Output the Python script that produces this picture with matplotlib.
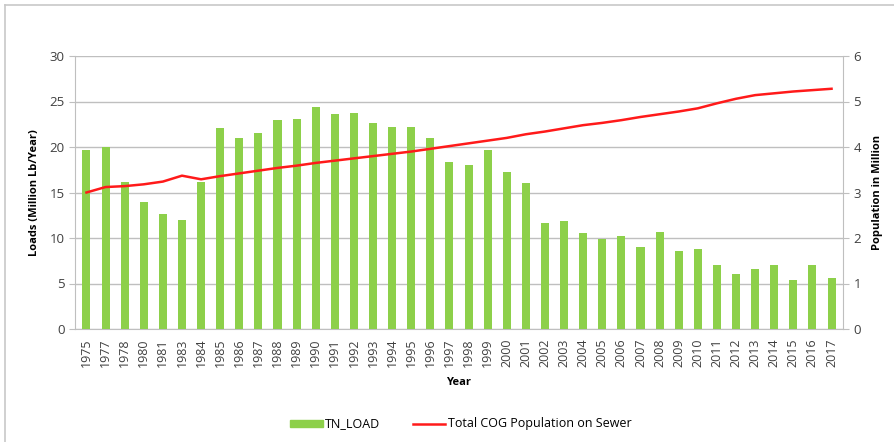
import matplotlib
matplotlib.use("Agg")
import matplotlib.pyplot as plt
from matplotlib.lines import Line2D
from matplotlib.patches import Patch
import numpy as np

years = ["1975", "1977", "1978", "1980", "1981", "1983", "1984", "1985", "1986", "1987",
         "1988", "1989", "1990", "1991", "1992", "1993", "1994", "1995", "1996", "1997",
         "1998", "1999", "2000", "2001", "2002", "2003", "2004", "2005", "2006", "2007",
         "2008", "2009", "2010", "2011", "2012", "2013", "2014", "2015", "2016", "2017"]
tn_load = [19.7, 20.0, 16.1, 14.0, 12.6, 12.0, 16.1, 22.1, 21.0, 21.5,
           23.0, 23.1, 24.4, 23.6, 23.7, 22.6, 22.2, 22.2, 21.0, 18.4,
           18.0, 19.65, 17.2, 16.0, 11.6, 11.9, 10.6, 9.9, 10.2, 9.0,
           10.7, 8.6, 8.8, 7.0, 6.05, 6.6, 7.0, 5.4, 7.0, 5.6]
population = [3.00, 3.12, 3.14, 3.18, 3.24, 3.37, 3.29, 3.36, 3.42, 3.48,
              3.54, 3.59, 3.65, 3.70, 3.75, 3.80, 3.85, 3.90, 3.96, 4.02,
              4.08, 4.14, 4.20, 4.28, 4.34, 4.41, 4.48, 4.53, 4.59, 4.66,
              4.72, 4.78, 4.85, 4.96, 5.06, 5.14, 5.18, 5.22, 5.25, 5.28]

plt.rcParams['font.family'] = ['Open Sans', 'DejaVu Sans']
W, H = 895, 442
fig = plt.figure(figsize=(W / 100, H / 100), dpi=100)

# outer border (top and left visible)
fig.add_artist(Line2D([5 / W, 1.0], [1 - 5 / H, 1 - 5 / H], transform=fig.transFigure,
                      color="#c8c8c8", lw=1.2))
fig.add_artist(Line2D([5 / W, 5 / W], [0, 1 - 5 / H], transform=fig.transFigure,
                      color="#c8c8c8", lw=1.2))

left, right, top, bottom = 75, 843, 56, 329
aw = right - left
ax = fig.add_axes([left / W, 1 - bottom / H, aw / W, (bottom - top) / H])
x = np.arange(len(years))
ax.bar(x, tn_load, width=0.42, color="#8dd04a", zorder=3, label="TN_LOAD")
ax.set_ylim(0, 30)
ax.set_yticks(range(0, 31, 5))
ax.set_xlim(-0.6, len(years) - 0.4)
ax.set_xticks(x)
ax.set_xticklabels(years, rotation=90, fontsize=9, color="#404040")
ax.tick_params(axis='y', labelsize=9.5, colors="#404040", length=4, color="#bfbfbf")
ax.tick_params(axis='x', length=0, pad=7)
ax.grid(axis='y', color="#bfbfbf", lw=1.0, zorder=0)
for s in ["top", "right"]:
    ax.spines[s].set_visible(False)
for s in ["left", "bottom"]:
    ax.spines[s].set_color("#bfbfbf")
ax.set_ylabel("Loads (Million Lb/Year)", fontsize=8, fontweight="bold", va="center")
ax.yaxis.set_label_coords((35 - left) / aw, 0.5)
ax.set_xlabel("Year", fontsize=8, fontweight="bold", labelpad=7)

ax2 = ax.twinx()
ax2.plot(x, population, color="#ff1a1a", lw=1.8, zorder=4, label="Total COG Population on Sewer")
ax2.set_ylim(0, 6)
ax2.set_yticks(range(0, 7))
ax2.tick_params(axis='y', labelsize=9.5, colors="#404040", length=4, color="#bfbfbf")
for s in ["top", "left", "bottom"]:
    ax2.spines[s].set_visible(False)
ax2.spines["right"].set_color("#bfbfbf")
ax2.set_ylabel("Population in Million", fontsize=8, fontweight="bold", va="center")
ax2.yaxis.set_label_coords((878 - left) / aw, 0.5)

h1 = Patch(color="#8dd04a", label="TN_LOAD")
h2 = Line2D([], [], color="#ff1a1a", lw=1.8, label="Total COG Population on Sewer")
fig.legend(handles=[h1, h2], loc="center", bbox_to_anchor=(0.515, 1 - 424 / H), ncol=2,
           frameon=False, fontsize=9, handlelength=2.6, handleheight=0.5, columnspacing=2.6,
           handletextpad=0.2)

fig.savefig("out.png", dpi=100)
